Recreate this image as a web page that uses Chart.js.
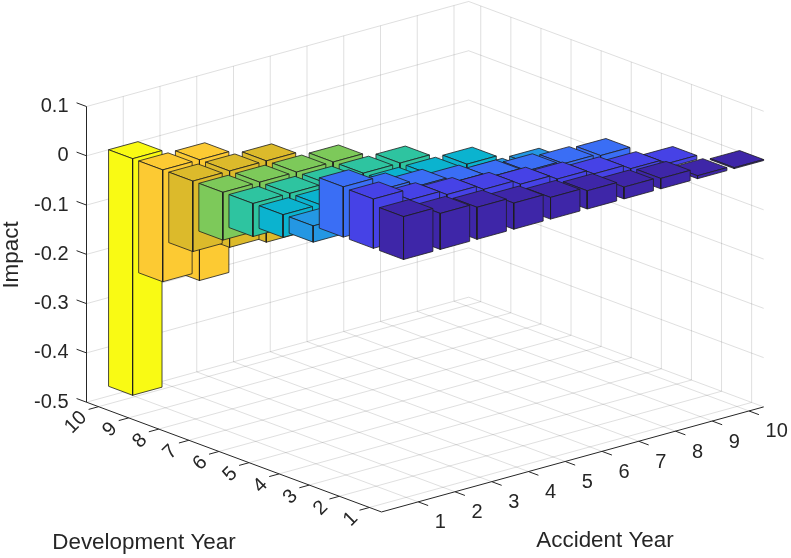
<!DOCTYPE html>
<html>
<head>
<meta charset="utf-8">
<script src="https://cdn.jsdelivr.net/npm/chart.js@4.4.1/dist/chart.umd.min.js"></script>
<style>
  html, body { margin: 0; padding: 0; background: #fff; }
</style>
</head>
<body>
<canvas id="impactChart" width="791" height="558"></canvas>
<script>
// axis categories and ticks
const accidentYears = [1, 2, 3, 4, 5, 6, 7, 8, 9, 10];
const developmentYears = [1, 2, 3, 4, 5, 6, 7, 8, 9, 10];
const impactTicks = [-0.5, -0.4, -0.3, -0.2, -0.1, 0, 0.1];

// impact per development year, one value per accident year (run-off triangle)
const dev1 = [0.087, 0.073, 0.065, 0.053, 0.044, 0.037, 0.024, 0.021, 0.006, 0.002];
const dev2 = [0.100, 0.078, 0.068, 0.058, 0.048, 0.038, 0.028, 0.018, 0.008];
const dev3 = [0.102, 0.075, 0.062, 0.050, 0.040, 0.032, 0.026, 0.022];
const dev4 = [-0.033, -0.036, -0.038, -0.040, -0.042, -0.044, -0.046];
const dev5 = [-0.046, -0.049, -0.052, -0.055, -0.058, -0.061];
const dev6 = [-0.067, -0.071, -0.075, -0.079, -0.083];
const dev7 = [-0.097, -0.103, -0.109, -0.115];
const dev8 = [-0.143, -0.155, -0.165];
const dev9 = [-0.227, -0.245];
const dev10 = [-0.480];

const devColors = ['#3E26A8', '#4642E6', '#3A6EF5', '#2497E3', '#0BB3CF',
                   '#2EC4A0', '#7DC95A', '#DCBA2B', '#FCCA33', '#F9FA14'];

const FONT = '"Liberation Sans", Arial, Helvetica, sans-serif';
const INK = '#262626';

// 3d box limits and view (screen px per unit)
const aLim = [0, 10.4], dLim = [0.6, 10.4], zLim = [-0.5, 0.1];
const view = { ax: 36.75, ay: 10.1, dx: 30.1, dy: 11.2, zy: 492.8 };
const barHalf = 0.4;

// orthographic projection into the chart's x/y scale units
function proj(a, d, z) {
    return {
        x: (a - aLim[0]) - (view.dx / view.ax) * (d - dLim[1]),
        y: z + (view.ay * (a - aLim[0]) + view.dy * (d - dLim[1])) / view.zy
    };
}

function segData(list) {
    const out = [];
    list.forEach(function (s) {
        out.push(proj(s[0][0], s[0][1], s[0][2]), proj(s[1][0], s[1][1], s[1][2]), {x: null, y: null});
    });
    return out;
}

// grid on floor and the two back walls
const gridSegs = [];
accidentYears.forEach(function (a) {
    gridSegs.push([[a, dLim[0], zLim[0]], [a, dLim[1], zLim[0]]]);
    gridSegs.push([[a, dLim[1], zLim[0]], [a, dLim[1], zLim[1]]]);
});
developmentYears.forEach(function (d) {
    gridSegs.push([[aLim[0], d, zLim[0]], [aLim[1], d, zLim[0]]]);
    gridSegs.push([[aLim[1], d, zLim[0]], [aLim[1], d, zLim[1]]]);
});
impactTicks.forEach(function (z) {
    gridSegs.push([[aLim[0], dLim[1], z], [aLim[1], dLim[1], z]]);
    gridSegs.push([[aLim[1], dLim[1], z], [aLim[1], dLim[0], z]]);
});

// axis lines and tick marks
const axisSegs = [
    [[0, dLim[1], zLim[0]], [0, dLim[1], zLim[1]]],
    [[0, dLim[1], zLim[0]], [0, dLim[0], zLim[0]]],
    [[0, dLim[0], zLim[0]], [aLim[1], dLim[0], zLim[0]]]
];
impactTicks.forEach(function (z) { axisSegs.push([[0, dLim[1], z], [0, dLim[1] + 0.33, z]]); });
developmentYears.forEach(function (d) { axisSegs.push([[0, d, zLim[0]], [-0.27, d, zLim[0]]]); });
accidentYears.forEach(function (a) { axisSegs.push([[a, dLim[0], zLim[0]], [a, dLim[0] - 0.33, zLim[0]]]); });

// bars, sorted back to front
const impactRows = [dev1, dev2, dev3, dev4, dev5, dev6, dev7, dev8, dev9, dev10];
const bars = [];
impactRows.forEach(function (row, j) {
    row.forEach(function (val, i) {
        bars.push({a: accidentYears[i], d: developmentYears[j], val: val, color: devColors[j]});
    });
});
bars.sort(function (p, q) { return (q.a + q.d) - (p.a + p.d); });

const datasets = [];
datasets.push({
    data: segData(gridSegs), borderColor: 'rgba(38,38,38,0.15)', borderWidth: 1,
    fill: false, order: 100000
});

let k = 0;
bars.forEach(function (b) {
    const a0 = b.a - barHalf, a1 = b.a + barHalf, d0 = b.d - barHalf, d1 = b.d + barHalf;
    const z0 = Math.min(0, b.val), z1 = Math.max(0, b.val);
    const faces = [
        [[a0, d0, z1], [a1, d0, z1], [a1, d1, z1], [a0, d1, z1]],
        [[a0, d0, z0], [a0, d1, z0], [a0, d1, z1], [a0, d0, z1]],
        [[a0, d0, z0], [a1, d0, z0], [a1, d0, z1], [a0, d0, z1]]
    ];
    faces.forEach(function (f) {
        const pts = f.map(function (p) { return proj(p[0], p[1], p[2]); });
        pts.push(pts[0]);
        datasets.push({
            data: pts, backgroundColor: b.color, borderColor: '#1e1e1e', borderWidth: 0.8,
            fill: 'shape', order: 50000 - k
        });
        k++;
    });
});

datasets.push({
    data: segData(axisSegs), borderColor: INK, borderWidth: 1, fill: false, order: -1
});

datasets.forEach(function (ds) {
    ds.pointRadius = 0;
    ds.pointHoverRadius = 0;
    ds.tension = 0;
    ds.clip = false;
    ds.spanGaps = false;
});

// chart area: left edge on the impact axis, top on the box top
const areaLeft = 86.5, areaRight = 771, areaTop = 0, areaBottom = 510;
const cornerPx = 402.2;
const vMax = zLim[0] + (cornerPx - areaTop) / view.zy;
const vMin = vMax - (areaBottom - areaTop) / view.zy;

const axisText = {
    id: 'axisText',
    afterDraw: function (chart) {
        const ctx = chart.ctx, xs = chart.scales.x, ys = chart.scales.y;
        function px(p) { return {x: xs.getPixelForValue(p.x), y: ys.getPixelForValue(p.y)}; }
        ctx.save();
        ctx.fillStyle = INK;
        ctx.font = '20px ' + FONT;

        // development year ticks, rotated
        ctx.textAlign = 'right';
        ctx.textBaseline = 'middle';
        developmentYears.forEach(function (d) {
            const p = px(proj(-0.4, d, zLim[0]));
            ctx.save();
            ctx.translate(p.x, p.y + 3.8);
            ctx.rotate(-Math.PI / 4);
            ctx.fillText(String(d), 0, 0);
            ctx.restore();
        });

        // accident year ticks
        ctx.textAlign = 'left';
        accidentYears.forEach(function (a) {
            const p = px(proj(a, dLim[0] - 0.5, zLim[0]));
            ctx.fillText(String(a), p.x + 1.5, p.y + 15.4);
        });

        ctx.font = '22.4px ' + FONT;
        ctx.textAlign = 'center';
        ctx.textBaseline = 'alphabetic';
        ctx.fillText('Development Year', 144, 549);
        ctx.fillText('Accident Year', 605, 547);
        ctx.restore();
    }
};

new Chart(document.getElementById('impactChart'), {
    type: 'line',
    data: { datasets: datasets },
    options: {
        responsive: false,
        animation: false,
        events: [],
        layout: { padding: { left: 0, top: areaTop, right: 791 - areaRight, bottom: 558 - areaBottom } },
        plugins: { legend: { display: false }, tooltip: { enabled: false } },
        scales: {
            x: {
                type: 'linear', display: false,
                min: 0, max: (areaRight - areaLeft) / view.ax
            },
            y: {
                type: 'linear', position: 'left',
                min: vMin, max: vMax,
                grid: { display: false, drawTicks: false },
                border: { display: false },
                afterBuildTicks: function (scale) {
                    scale.ticks = impactTicks.map(function (v) { return {value: v}; });
                },
                afterFit: function (scale) {
                    scale.width = areaLeft;
                    scale.paddingTop = 0;
                    scale.paddingBottom = 0;
                },
                ticks: {
                    autoSkip: false, padding: 18, color: INK,
                    font: { size: 20, family: FONT },
                    callback: function (v) { return String(Math.round(v * 10) / 10); }
                },
                title: {
                    display: true, text: 'Impact', color: INK,
                    padding: { top: 0, bottom: 0 },
                    font: { size: 22.4, family: FONT, lineHeight: 1.07 }
                }
            }
        }
    },
    plugins: [axisText]
});
</script>
</body>
</html>
